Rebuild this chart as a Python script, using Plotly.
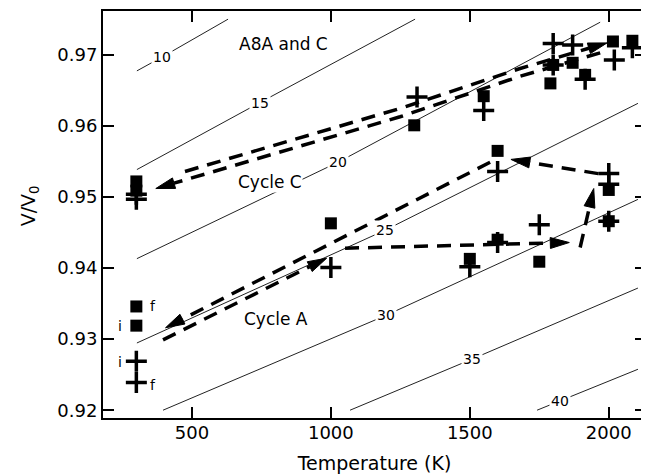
import math
import plotly.graph_objects as go

# ---------------- data ----------------
# filled squares
sq_T = [300, 300, 300, 300, 1000, 1300, 1500, 1550, 1600, 1600, 1750,
        1790, 1800, 1870, 1915, 2015, 2085, 2000, 2000]
sq_V = [0.9522, 0.9509, 0.9346, 0.9319, 0.9463, 0.9601, 0.9413, 0.9642, 0.9565, 0.9440, 0.9409,
        0.9660, 0.9686, 0.9689, 0.9672, 0.9719, 0.9720, 0.9510, 0.9466]
# crosses
pl_T = [300, 300, 300, 300, 1000, 1310, 1500, 1550, 1600, 1600, 1750,
        1800, 1800, 1870, 1915, 2020, 2085, 2000, 2000, 2000]
pl_V = [0.9504, 0.9497, 0.9269, 0.9239, 0.9401, 0.9641, 0.9402, 0.9622, 0.9536, 0.9436, 0.9461,
        0.9716, 0.9686, 0.9714, 0.9666, 0.9693, 0.9710, 0.9533, 0.9518, 0.9466]

# dashed cycle paths (arrow tip at the last point)
paths = {
    "C_up":   ([475, 1260, 1681, 1994], [0.9536, 0.9626, 0.9681, 0.9717]),
    "C_down": ([1969, 1681, 1249, 370], [0.9703, 0.9670, 0.9613, 0.9512]),
    "A1":     ([396, 985], [0.9299, 0.9414]),
    "A2":     ([1051, 1858], [0.9428, 0.9436]),
    "A3":     ([1897, 1946], [0.9429, 0.9512]),
    "A4":     ([1962, 1648], [0.9533, 0.9553]),
    "A5":     ([1573, 405], [0.9549, 0.9316]),
}

# isobars (GPa): start, label point, end
iso_labels = ["10", "15", "20", "25", "30", "35", "40"]
iso_T0 = [302, 302, 302, 302, 396, 1069, 1742]
iso_V0 = [0.96776, 0.95387, 0.94133, 0.92946, 0.9200, 0.9200, 0.9200]
iso_Tm = [392, 745, 1026, 1195, 1198, 1508, 1825]
iso_Vm = [0.9697, 0.96331, 0.95491, 0.94533, 0.93334, 0.92719, 0.92133]
iso_T1 = [630, 1303, 1969, 2105, 2105, 2105, 2105]
iso_V1 = [0.97504, 0.97504, 0.97461, 0.96319, 0.94967, 0.93719, 0.92576]

x_ticks = [500, 1000, 1500, 2000]
y_ticks = [0.92, 0.93, 0.94, 0.95, 0.96, 0.97]

text_labels = ["A8A and C", "Cycle C", "Cycle A"]
text_T = [831, 781, 802]
text_V = [0.97161, 0.9521, 0.9329]

if_labels = ["f", "i", "i", "f"]
if_T = [360, 241, 241, 360]
if_V = [0.9346, 0.9318, 0.9268, 0.9236]

# ---------------- figure ----------------
FONT = "DejaVu Sans, Liberation Sans, Arial, sans-serif"
# the page body has an 8 px margin, so the figure is 8 px smaller and margins shifted
W, H = 641, 467
ML, MR, MT, MB = 95, 3, 1, 57
XR = [180, 2134]
YR = [0.9189, 0.97619]
PW, PH = W - ML - MR, H - MT - MB
px_per_x = PW / (XR[1] - XR[0])
px_per_y = PH / (YR[1] - YR[0])

fig = go.Figure()

for i, lab in enumerate(iso_labels):
    fig.add_trace(go.Scatter(
        x=[iso_T0[i], iso_Tm[i], iso_T1[i]], y=[iso_V0[i], iso_Vm[i], iso_V1[i]],
        mode="lines", line=dict(color="#222", width=1), hoverinfo="skip", showlegend=False))

HEAD_LEN, HEAD_HALF = 19, 5.5  # arrowhead size in px
for name, (tx, vy) in paths.items():
    dxp = (tx[-1] - tx[-2]) * px_per_x
    dyp = (vy[-1] - vy[-2]) * px_per_y
    L = math.hypot(dxp, dyp)
    ux, uy = dxp / L, dyp / L          # unit direction (px space)
    bx = tx[-1] - ux * HEAD_LEN / px_per_x
    by = vy[-1] - uy * HEAD_LEN / px_per_y
    fig.add_trace(go.Scatter(
        x=tx[:-1] + [bx], y=vy[:-1] + [by], mode="lines",
        line=dict(color="black", width=3.5, dash="14px,9px"),
        hoverinfo="skip", showlegend=False))
    nx, ny = -uy, ux
    hx = [tx[-1], bx + nx * HEAD_HALF / px_per_x, bx - nx * HEAD_HALF / px_per_x, tx[-1]]
    hy = [vy[-1], by + ny * HEAD_HALF / px_per_y, by - ny * HEAD_HALF / px_per_y, vy[-1]]
    fig.add_trace(go.Scatter(
        x=hx, y=hy, mode="lines", fill="toself", fillcolor="black",
        line=dict(color="black", width=1), hoverinfo="skip", showlegend=False))

fig.add_trace(go.Scatter(
    x=sq_T, y=sq_V, mode="markers",
    marker=dict(symbol="square", size=12, color="black", line=dict(width=0)),
    showlegend=False))
fig.add_trace(go.Scatter(
    x=pl_T, y=pl_V, mode="markers",
    marker=dict(symbol="cross-thin", size=15, color="black", line=dict(width=3.5, color="black")),
    showlegend=False))

for i, lab in enumerate(iso_labels):
    fig.add_annotation(x=iso_Tm[i], y=iso_Vm[i], text=lab, showarrow=False,
                       font=dict(family=FONT, size=14, color="black"),
                       bgcolor="white", borderpad=1)
for i, lab in enumerate(text_labels):
    fig.add_annotation(x=text_T[i], y=text_V[i], text=lab, showarrow=False,
                       font=dict(family=FONT, size=17, color="black"),
                       bgcolor="white", borderpad=0)
for i, lab in enumerate(if_labels):
    fig.add_annotation(x=if_T[i], y=if_V[i], text=lab, showarrow=False,
                       font=dict(family=FONT, size=14, color="black"))

# y-axis title as a rotated annotation, centred at page x ~ 29
fig.add_annotation(xref="paper", yref="paper", x=(21 - ML) / PW, y=0.52,
                   xanchor="center", yanchor="middle",
                   text="V/V<sub>0</sub>", textangle=-90, showarrow=False,
                   font=dict(family=FONT, size=19, color="black"))

axis_common = dict(showline=True, linecolor="black", linewidth=2, mirror="ticks",
                   ticks="inside", ticklen=11, tickwidth=2, tickcolor="black",
                   showgrid=False, zeroline=False,
                   tickfont=dict(family=FONT, size=18, color="black"))

fig.update_xaxes(range=XR, tickvals=x_ticks, ticklabelstandoff=-3,
                 title=dict(text="Temperature (K)", font=dict(family=FONT, size=19, color="black"),
                            standoff=15),
                 **axis_common)
fig.update_yaxes(range=YR, tickvals=y_ticks, tickformat=".2f", **axis_common)

fig.update_layout(width=W, height=H, margin=dict(l=ML, r=MR, t=MT, b=MB),
                  plot_bgcolor="white", paper_bgcolor="white")

fig.write_html("out.html")
